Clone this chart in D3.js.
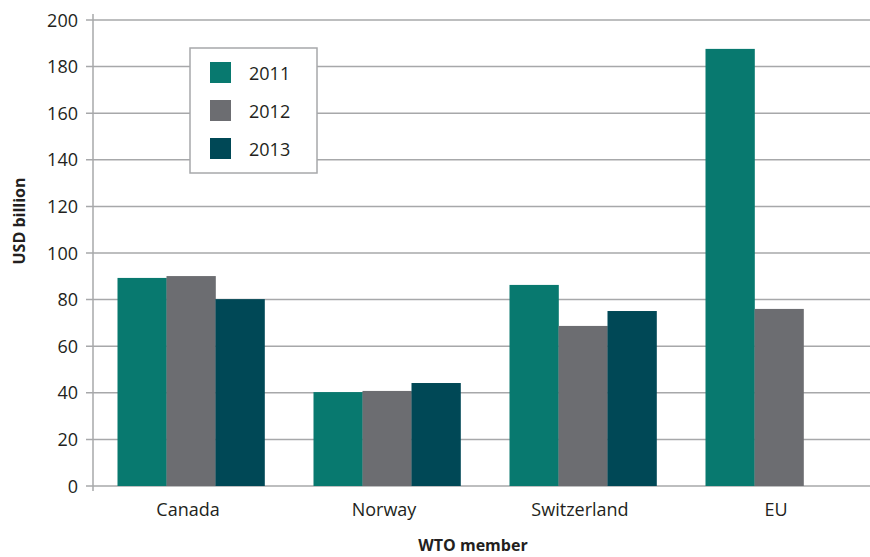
<!DOCTYPE html>
<html>
<head>
<meta charset="utf-8">
<script src="https://cdn.jsdelivr.net/npm/d3@7"></script>
<style>
  body { margin: 0; background: #fff; }
  text { font-family: "Open Sans", sans-serif; fill: #231f20; }
</style>
</head>
<body>
<div id="container"></div>
<script>
const members = ["Canada", "Norway", "Switzerland", "EU"]
const years = ["2011", "2012", "2013"]
const v2011 = [89.3, 40.3, 86.3, 187.6]
const v2012 = [90.1, 40.8, 68.7, 76]
const v2013 = [80.2, 44.2, 75.1, null]
const yTicks = [0, 20, 40, 60, 80, 100, 120, 140, 160, 180, 200]
const colors = ["#08796f", "#6c6d71", "#004856"]

const width = 870
const height = 557
const gridcolor = "#a7a8aa"

const svg = d3.select("#container").append("svg").attr("width", width).attr("height", height)

const x = d3.scaleBand().domain(members).range([93, 877]).paddingInner(0).paddingOuter(0)
const xInner = d3.scaleBand().domain(years).range([0, x.bandwidth()]).paddingOuter(0.5).paddingInner(0)
const y = d3.scaleLinear().domain([0, 200]).range([486, 20])

// gridlines
svg.append("g").selectAll("line")
  .data(yTicks)
  .enter().append("line")
  .attr("x1", 86).attr("x2", width)
  .attr("y1", d => y(d)).attr("y2", d => y(d))
  .attr("stroke", gridcolor).attr("stroke-width", 1.5)

// y axis line
svg.append("line")
  .attr("x1", 93).attr("x2", 93)
  .attr("y1", y(200) - 6).attr("y2", y(0) + 5)
  .attr("stroke", gridcolor).attr("stroke-width", 1.5)

svg.append("g").selectAll("text")
  .data(yTicks)
  .enter().append("text")
  .attr("x", 78).attr("y", d => y(d) + 6.5)
  .attr("text-anchor", "end")
  .style("font-size", "18px")
  .text(d => d)

// bars
const series = [v2011, v2012, v2013]
series.forEach((vals, i) => {
  svg.append("g").selectAll("rect")
    .data(members.map((m, j) => ({ m: m, v: vals[j] })).filter(d => d.v != null))
    .enter().append("rect")
    .attr("x", d => x(d.m) + xInner(years[i]))
    .attr("width", xInner.bandwidth() + 0.3)
    .attr("y", d => y(d.v))
    .attr("height", d => y(0) - y(d.v))
    .attr("fill", colors[i])
})

// x axis labels
svg.append("g").selectAll("text")
  .data(members)
  .enter().append("text")
  .attr("x", d => x(d) + x.bandwidth() / 2 - 3)
  .attr("y", 516)
  .attr("text-anchor", "middle")
  .style("font-size", "18px")
  .text(d => d)

svg.append("text")
  .attr("x", 473).attr("y", 551)
  .attr("text-anchor", "middle")
  .style("font-size", "16px").style("font-weight", "bold")
  .text("WTO member")

svg.append("text")
  .attr("transform", "translate(25,221) rotate(-90)")
  .attr("text-anchor", "middle")
  .style("font-size", "16px").style("font-weight", "bold")
  .text("USD billion")

// legend
const legend = svg.append("g")
legend.append("rect")
  .attr("x", 190).attr("y", 48).attr("width", 127).attr("height", 125)
  .attr("fill", "#fff").attr("stroke", gridcolor).attr("stroke-width", 1.5)

years.forEach((yr, i) => {
  legend.append("rect")
    .attr("x", 210).attr("y", 62 + i * 38).attr("width", 21).attr("height", 21)
    .attr("fill", colors[i])
  legend.append("text")
    .attr("x", 249).attr("y", 80 + i * 38)
    .style("font-size", "18px")
    .text(yr)
})
</script>
</body>
</html>
